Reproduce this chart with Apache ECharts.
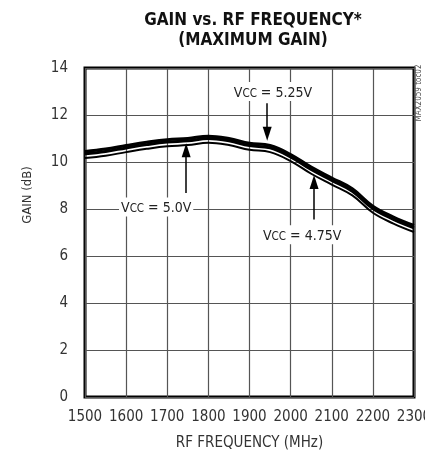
<!DOCTYPE html>
<html>
<head>
<meta charset="utf-8">
<script src="https://cdn.jsdelivr.net/npm/echarts@6/dist/echarts.min.js"></script>
<style>
html,body{margin:0;padding:0;background:#fff;}
#c{width:425px;height:460px;}
</style>
</head>
<body>
<div id="c"></div>
<script>
var FONT = "'DejaVu Sans Condensed', 'Liberation Sans', sans-serif";

var freq = [1500,1550,1600,1650,1700,1750,1800,1850,1900,1950,2000,2050,2100,2150,2200,2250,2300];
var gain525 = [10.45,10.55,10.70,10.84,10.95,11.00,11.10,11.00,10.80,10.70,10.32,9.78,9.32,8.86,8.12,7.66,7.30];
var gain500 = [10.35,10.45,10.60,10.74,10.85,10.90,11.00,10.90,10.70,10.60,10.22,9.68,9.22,8.76,8.02,7.56,7.20];
var gain475 = [10.17,10.27,10.42,10.56,10.67,10.72,10.82,10.72,10.52,10.42,10.04,9.50,9.04,8.58,7.84,7.38,7.02];

var xTicks = [1500,1600,1700,1800,1900,2000,2100,2200,2300];
var yTicks = [0,2,4,6,8,10,12,14];

// annotations
var annLabels = ['5.25V','5.0V','4.75V'];
var annLabelX = [1957,1673,2028];
var annLabelY = [13.0,8.09,6.9];
var annArrowX = [1943,1746,2057];
var annArrowFrom = [12.5,8.68,7.55];
var annArrowTo = [11.2,10.5,9.15];

function pairs(ys){ return freq.map(function(f,i){ return [f, ys[i]]; }); }

var chart = echarts.init(document.getElementById('c'), null, {renderer:'canvas'});

var markPts = annLabels.map(function(t,i){
  return {
    coord:[annLabelX[i], annLabelY[i]],
    symbol:'rect', symbolSize:1,
    itemStyle:{color:'rgba(0,0,0,0)'},
    label:{
      show:true, position:'inside',
      formatter:'{n|V}{s|CC}{n| = ' + t + '}',
      backgroundColor:'#fff', padding:[1,2,1,2],
      rich:{
        n:{fontFamily:FONT, fontSize:14, color:'#222', lineHeight:17, verticalAlign:'bottom'},
        s:{fontFamily:FONT, fontSize:11.5, color:'#222', lineHeight:17, verticalAlign:'bottom', padding:[5,0,0,0]}
      }
    }
  };
});

var markLines = annLabels.map(function(t,i){
  return [{coord:[annArrowX[i], annArrowFrom[i]]},{coord:[annArrowX[i], annArrowTo[i]]}];
});

chart.setOption({
  animation:false,
  backgroundColor:'#fff',
  title:{
    text:'GAIN vs. RF FREQUENCY*\n(MAXIMUM GAIN)',
    left:248, top:6, textAlign:'center',
    textStyle:{fontFamily:FONT, fontSize:17, fontWeight:'bold', color:'#111', lineHeight:20}
  },
  grid:{left:85, right:11, top:68, bottom:63, show:true, borderColor:'#000', borderWidth:3,
        backgroundColor:'rgba(0,0,0,0)', containLabel:false, outerBoundsMode:'none'},
  xAxis:{
    type:'value', min:1500, max:2300, interval:100,
    name:'RF FREQUENCY (MHz)', nameLocation:'middle', nameGap:39,
    nameTextStyle:{fontFamily:FONT, fontSize:15, color:'#333'},
    axisLine:{show:false}, axisTick:{show:false},
    axisLabel:{fontFamily:FONT, fontSize:15, color:'#333', margin:13,
      formatter:function(v){ return xTicks.indexOf(v)>=0 ? String(v) : ''; }},
    splitLine:{show:true, lineStyle:{color:'#555', width:1.2}}
  },
  yAxis:{
    type:'value', min:0, max:14, interval:2,
    axisLine:{show:false}, axisTick:{show:false},
    axisLabel:{fontFamily:FONT, fontSize:15, color:'#333', margin:17,
      formatter:function(v){ return yTicks.indexOf(v)>=0 ? String(v) : ''; }},
    splitLine:{show:true, lineStyle:{color:'#555', width:1.2}}
  },
  graphic:[
    {type:'text', x:28, y:195, rotation:Math.PI/2,
     style:{text:'GAIN (dB)', fontFamily:FONT, fontSize:13, fill:'#333', align:'center', verticalAlign:'middle'}},
    {type:'text', x:419, y:93, rotation:Math.PI/2,
     style:{text:'MAX2059 toc02', fontFamily:FONT, fontSize:8, fill:'#555', align:'center', verticalAlign:'middle'}}
  ],
  series:[
    {name:'VCC = 4.75V', type:'line', data:pairs(gain475), smooth:0.4, showSymbol:false,
     lineStyle:{color:'#000', width:2}, z:3},
    {name:'VCC = 5.0V', type:'line', data:pairs(gain500), smooth:0.4, showSymbol:false,
     lineStyle:{color:'#000', width:3}, z:3},
    {name:'VCC = 5.25V', type:'line', data:pairs(gain525), smooth:0.4, showSymbol:false,
     lineStyle:{color:'#000', width:3}, z:3,
     markLine:{silent:true, symbol:['none','triangle'], symbolSize:[9,14],
       lineStyle:{color:'#000', width:1.5, type:'solid'}, label:{show:false},
       data:markLines},
     markPoint:{silent:true, data:markPts}}
  ]
});
</script>
</body>
</html>
